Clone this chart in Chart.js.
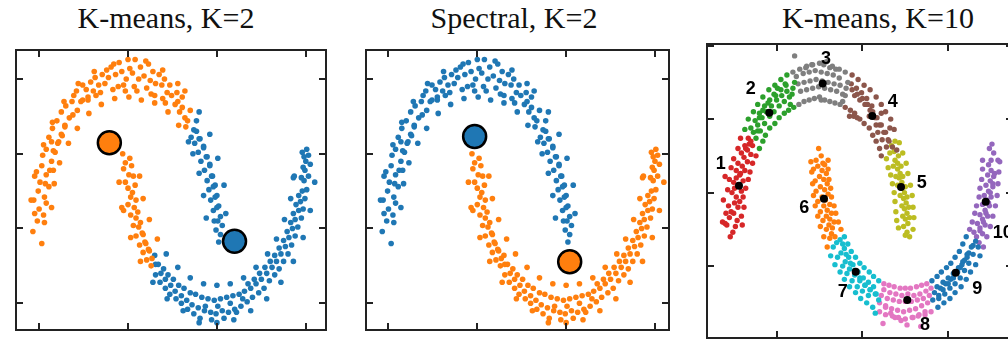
<!DOCTYPE html>
<html>
<head>
<meta charset="utf-8">
<script src="https://cdn.jsdelivr.net/npm/chart.js@4.4.1/dist/chart.umd.min.js"></script>
<style>
  html, body { margin: 0; padding: 0; background: #fff; overflow: hidden; }
  body { width: 1008px; height: 341px; position: relative; }
  .title { position: absolute; top: 3px; font: 30px "Liberation Serif", "Times New Roman", serif; line-height: 30px; white-space: nowrap; transform: translateX(-50%); color: #111; }
  canvas { position: absolute; }
</style>
</head>
<body>
<div class="title" id="t1" style="left:166px"></div>
<div class="title" id="t2" style="left:514px"></div>
<div class="title" id="t3" style="left:878px"></div>
<canvas id="c1" width="338" height="308" style="left:2px;top:36px"></canvas>
<canvas id="c2" width="331" height="308" style="left:352px;top:36px"></canvas>
<canvas id="c3" width="318" height="306" style="left:701px;top:38px"></canvas>
<script>
'use strict'

const titles = ['K-means, K=2', 'Spectral, K=2', 'K-means, K=10']

// two moons, each split where the K=2 k-means boundary cuts it
const upperA = [
  [-1.07,-0.02],[-0.97,-0.10],[-1.02,0.05],[-1.05,0.10],[-0.94,0.04],[-1.00,0.13],
  [-0.95,0.09],[-1.06,0.19],[-0.92,0.17],[-1.01,0.25],[-0.94,0.21],[-0.89,0.28],
  [-0.99,0.31],[-0.92,0.36],[-1.05,0.35],[-0.88,0.39],[-0.97,0.42],[-0.93,0.30],
  [-0.86,0.45],[-0.96,0.49],[-0.84,0.39],[-0.92,0.53],[-0.82,0.51],[-0.86,0.58],
  [-0.78,0.58],[-0.89,0.61],[-0.84,0.52],[-0.75,0.63],[-0.85,0.67],[-0.79,0.57],
  [-0.71,0.69],[-0.80,0.72],[-0.74,0.62],[-0.66,0.74],[-0.75,0.78],[-0.71,0.68],
  [-0.62,0.76],[-0.70,0.82],[-0.63,0.85],[-0.57,0.79],[-0.61,0.89],[-0.53,0.85],
  [-0.51,0.86],[-0.58,0.92],[-0.47,0.93],[-0.45,0.88],[-0.51,0.96],[-0.42,0.98],
  [-0.39,0.92],[-0.37,1.01],[-0.45,0.86],[-0.33,0.96],[-0.29,1.03],[-0.36,0.89],
  [-0.26,0.97],[-0.24,1.06],[-0.31,0.91],[-0.22,1.01],[-0.17,0.93],[-0.19,1.08],
  [-0.14,1.03],[-0.11,0.95],[-0.16,1.10],[-0.07,1.05],[-0.05,0.96],[-0.10,1.11],
  [-0.02,1.00],[0.02,1.07],[-0.03,0.92],[0.05,1.04],[0.07,0.95],[0.08,1.13],
  [0.12,1.00],[0.14,1.08],[0.10,0.92],[0.18,1.02],[0.21,0.94],[0.23,1.10],
  [0.25,0.99],[0.28,1.05],[0.26,0.90],[0.31,0.97],[0.35,1.03],[0.30,0.89],
  [0.38,0.96],[0.41,1.00],[0.39,0.87],[0.44,0.91],[0.47,0.96],[0.42,0.84],
  [0.49,0.89],[0.53,0.83],[0.55,0.91],[0.56,0.85],[0.58,0.78],[0.61,0.88],
  [0.61,0.81],[0.64,0.74],[0.57,0.69],[0.67,0.72],[0.70,0.79],[0.65,0.68],
  [-1.09,0.19],[-0.86,0.14],[-1.03,0.38],[-0.83,0.30],[-0.95,0.56],[-0.77,0.44],
  [-0.85,0.71],[-0.67,0.57],[-0.72,0.85],[-0.57,0.67],[-0.56,0.97],[-0.44,0.77],
  [-0.38,1.05],[-0.30,0.83],[-0.15,0.87],[0.00,1.13],[0.01,0.88],[0.20,1.12],
  [0.15,0.86],[0.39,1.06],[0.30,0.84],[0.56,0.97],[0.45,0.78],[0.64,0.92]
]
const upperB = [
  [0.74,0.66],[0.71,0.61],[0.77,0.72],[0.77,0.65],[0.80,0.60],[0.75,0.57],
  [0.81,0.60],[0.85,0.55],[0.79,0.51],[0.85,0.54],[0.89,0.48],[0.82,0.45],
  [0.88,0.48],[0.92,0.43],[0.86,0.39],[0.92,0.42],[0.95,0.35],[0.89,0.32],
  [0.94,0.35],[0.98,0.29],[0.91,0.26],[0.96,0.28],[1.00,0.22],[0.93,0.19],
  [0.98,0.21],[1.02,0.15],[0.96,0.12],[1.00,0.14],[1.04,0.08],[0.97,0.05],
  [1.01,0.05],[1.06,0.02],[0.99,-0.01],[1.04,-0.04],[1.02,-0.09],
  [0.80,0.78],[0.68,0.58],[0.92,0.63],[0.73,0.50],[1.01,0.47],[0.80,0.37],
  [1.08,0.29],[0.85,0.22],[1.10,0.10],[0.88,0.07]
]
const lowerA = [
  [-0.06,0.50],[0.02,0.47],[-0.03,0.44],[0.04,0.42],[-0.05,0.40],[0.01,0.36],
  [0.06,0.35],[-0.03,0.31],[0.08,0.29],[0.00,0.27],[0.05,0.24],[-0.07,0.14],
  [0.03,0.21],[0.09,0.19],[0.00,0.16],[0.07,0.14],[0.11,0.11],[0.03,0.09],
  [0.09,0.07],[0.14,0.04],[0.06,0.02],[0.12,0.01],[0.16,-0.03],[0.09,-0.05],
  [0.17,-0.04],[0.19,-0.09],[0.13,-0.11],[0.20,-0.10],[0.23,-0.14],[0.17,-0.16],
  [0.24,-0.15],[0.27,-0.20],[0.21,-0.21],[0.26,-0.25],
  [-0.10,0.31],[0.13,0.35],[-0.05,0.12],[0.17,0.20],[0.03,-0.06],[0.24,0.06],
  [0.14,-0.22],[0.33,-0.07]
]
const lowerB = [
  [0.31,-0.24],[0.30,-0.18],[0.34,-0.24],[0.37,-0.30],[0.31,-0.31],
  [0.40,-0.27],[0.42,-0.34],[0.36,-0.36],[0.45,-0.31],[0.48,-0.38],[0.42,-0.40],
  [0.51,-0.34],[0.53,-0.42],[0.47,-0.44],[0.57,-0.38],[0.60,-0.45],[0.54,-0.47],
  [0.63,-0.40],[0.66,-0.48],[0.60,-0.50],[0.70,-0.43],[0.72,-0.51],[0.67,-0.54],
  [0.76,-0.44],[0.79,-0.53],[0.74,-0.57],[0.83,-0.46],[0.86,-0.55],[0.81,-0.60],
  [0.90,-0.47],[0.93,-0.56],[0.87,-0.52],[0.97,-0.48],[0.99,-0.57],[0.94,-0.61],
  [1.04,-0.47],[1.06,-0.55],[1.01,-0.52],[1.11,-0.46],[1.13,-0.56],[1.08,-0.60],
  [1.18,-0.45],[1.20,-0.54],[1.15,-0.50],[1.25,-0.44],[1.27,-0.52],[1.22,-0.56],
  [1.31,-0.42],[1.34,-0.49],[1.29,-0.47],[1.38,-0.40],[1.40,-0.46],[1.35,-0.37],
  [1.44,-0.37],[1.47,-0.43],[1.42,-0.34],[1.50,-0.34],[1.53,-0.40],[1.48,-0.30],
  [1.56,-0.30],[1.59,-0.35],[1.54,-0.26],[1.62,-0.26],[1.65,-0.31],[1.60,-0.22],
  [1.67,-0.22],[1.70,-0.27],[1.65,-0.18],[1.72,-0.17],[1.75,-0.22],[1.70,-0.13],
  [1.77,-0.12],[1.80,-0.17],[1.75,-0.08],[1.81,-0.06],[1.84,-0.11],[1.79,-0.02],
  [1.85,0.00],[1.88,-0.05],[1.83,0.04],[1.88,0.06],[1.91,0.01],[1.86,0.10],
  [1.92,0.12],[1.95,0.07],[1.89,0.16],[1.94,0.18],[1.97,0.13],[1.92,0.22],
  [1.96,0.25],[1.99,0.20],[1.86,0.34],[1.98,0.32],[2.01,0.26],[1.95,0.34],
  [1.99,0.39],[2.03,0.35],[1.97,0.41],[2.00,0.45],[2.05,0.43],[1.98,0.48],
  [2.03,0.49],[1.96,0.51],[2.01,0.53],
  [0.28,-0.36],[0.43,-0.17],[0.44,-0.47],[0.56,-0.26],[0.62,-0.55],[0.70,-0.33],
  [0.80,-0.63],[0.85,-0.37],[1.00,-0.63],[1.00,-0.38],[1.19,-0.61],[1.15,-0.37],
  [1.38,-0.55],[1.30,-0.33],[1.56,-0.47],[1.44,-0.26],[1.72,-0.36],[1.57,-0.17],
  [1.86,-0.22],[1.67,-0.07],[1.97,-0.06],[1.76,0.06],[2.05,0.12],[1.83,0.20],
  [2.10,0.31],[1.87,0.35]
]

const kmCenters = [[-0.21, 0.574], [1.198, -0.085]]      // orange, blue
const spectralCenters = [[-0.03, 0.615], [1.04, -0.223]] // blue, orange

// K=10 run on a denser sample
const c1 = [
  [-1.04,-0.05],[-0.98,0.02],[-1.08,0.03],[-1.01,-0.02],[-1.05,0.08],[-0.96,0.06],[-1.13,0.05],[-1.00,0.11],
  [-0.95,0.15],[-1.03,0.12],[-0.99,0.18],[-1.06,0.16],[-0.97,0.22],[-0.93,0.19],[-1.02,0.25],[-0.99,0.28],
  [-0.95,0.30],[-1.00,0.32],[-0.91,0.26],[-0.97,0.35],[-0.93,0.37],[-0.97,0.40],[-0.89,0.33],[-1.10,0.36],
  [-0.90,0.43],[-0.95,0.45],[-0.87,0.40],[-0.92,0.38],[-0.88,0.49],[-0.84,0.46],[-0.91,0.52],[-0.86,0.55],
  [-0.84,0.54],[-0.82,0.58],[-0.87,0.57],[-0.80,0.51],[-0.80,0.60],[-0.83,0.62],[-0.78,0.57],
  [-1.10,0.04],[-0.90,0.03],[-1.09,0.11],[-0.91,0.09],[-1.12,0.20],[-0.88,0.15],[-1.07,0.27],[-0.89,0.22],
  [-1.05,0.34],[-0.86,0.28],[-1.03,0.42],[-0.83,0.34],[-1.00,0.48],[-0.81,0.39],[-0.95,0.55],[-0.78,0.45],
  [-0.92,0.62],[-0.74,0.50]
]
const c2 = [
  [-0.77,0.66],[-0.74,0.62],[-0.80,0.69],[-0.72,0.67],[-0.72,0.71],[-0.69,0.67],[-0.75,0.74],[-0.70,0.76],
  [-0.67,0.76],[-0.64,0.72],[-0.70,0.79],[-0.66,0.81],[-0.62,0.80],[-0.58,0.77],[-0.64,0.84],[-0.60,0.86],
  [-0.56,0.84],[-0.53,0.80],[-0.58,0.88],[-0.51,0.91],[-0.50,0.88],[-0.47,0.84],[-0.53,0.92],[-0.49,0.96],
  [-0.44,0.91],[-0.41,0.87],[-0.45,0.95],[-0.40,0.99],[-0.38,0.94],[-0.35,0.90],[-0.39,0.98],[-0.34,0.85],
  [-0.31,0.96],[-0.29,1.00],[-0.32,0.92],
  [-0.87,0.68],[-0.70,0.55],[-0.83,0.75],[-0.66,0.60],[-0.77,0.80],[-0.63,0.64],[-0.72,0.85],[-0.58,0.69],
  [-0.66,0.90],[-0.52,0.72],[-0.59,0.95],[-0.47,0.76],[-0.52,0.98],[-0.41,0.79],[-0.45,1.02],[-0.36,0.81],
  [-0.38,1.05],[-0.30,0.83]
]
const c3 = [
  [-0.25,0.99],[-0.22,0.94],[-0.27,1.04],[-0.29,1.18],[-0.18,1.00],[-0.15,0.95],[-0.19,1.06],[-0.16,1.10],
  [-0.11,1.01],[-0.08,0.96],[-0.12,1.07],[-0.09,1.12],[-0.04,1.02],[-0.01,0.97],[-0.05,1.08],[0.02,0.88],
  [0.03,1.01],[0.06,0.96],[0.02,1.07],[0.05,1.12],[0.10,1.00],[0.13,0.95],[0.09,1.06],[0.12,1.10],
  [0.17,0.99],[0.20,0.94],[0.16,1.05],[0.19,1.09],[0.24,0.98],[0.27,0.92],[0.23,1.03],[0.27,0.87],
  [0.31,0.96],[0.33,1.00],[0.30,0.91],
  [-0.31,1.07],[-0.24,0.85],[-0.23,1.09],[-0.18,0.87],[-0.15,1.11],[-0.12,0.88],[-0.08,1.12],[-0.06,0.89],
  [0.00,1.13],[0.00,0.90],[0.08,1.14],[0.06,0.88],[0.15,1.11],[0.12,0.87],[0.23,1.09],[0.18,0.86],
  [0.30,1.07],[0.24,0.85]
]
const c4 = [
  [0.38,0.95],[0.41,0.91],[0.37,0.99],[0.35,0.77],[0.44,0.92],[0.47,0.88],[0.43,0.96],[0.40,0.77],
  [0.50,0.89],[0.53,0.85],[0.49,0.93],[0.44,0.76],[0.56,0.85],[0.59,0.81],[0.55,0.89],[0.58,0.77],
  [0.62,0.80],[0.65,0.76],[0.61,0.84],[0.66,0.71],[0.67,0.76],[0.70,0.71],[0.68,0.66],[0.72,0.79],
  [0.72,0.71],[0.75,0.66],[0.73,0.61],[0.72,0.50],[0.77,0.66],[0.80,0.61],[0.78,0.56],[0.82,0.69],
  [0.81,0.60],[0.85,0.56],[0.90,0.54],
  [0.38,1.05],[0.30,0.83],[0.45,1.02],[0.36,0.81],[0.52,0.98],[0.41,0.79],[0.59,0.95],[0.47,0.75],
  [0.66,0.90],[0.52,0.72],[0.72,0.85],[0.58,0.69],[0.77,0.80],[0.62,0.64],[0.83,0.75],[0.66,0.60],
  [0.87,0.68],[0.70,0.55]
]
const c5 = [
  [0.84,0.57],[0.87,0.53],[0.82,0.52],[0.88,0.60],[0.88,0.47],[0.91,0.45],[0.86,0.43],[0.92,0.50],
  [0.91,0.41],[0.94,0.38],[0.89,0.36],[0.95,0.43],[0.93,0.35],[0.96,0.32],[0.91,0.30],[0.97,0.36],
  [0.96,0.28],[0.99,0.25],[0.94,0.23],[1.00,0.29],[0.98,0.21],[1.01,0.18],[0.96,0.16],[1.02,0.22],
  [0.99,0.14],[1.02,0.11],[0.97,0.09],[1.04,0.15],[1.00,0.07],[1.03,0.04],[0.98,0.02],[1.05,0.08],
  [1.02,-0.02],[1.05,-0.05],[1.00,-0.04],
  [0.93,0.59],[0.78,0.48],[0.97,0.52],[0.80,0.42],[1.01,0.45],[0.83,0.37],[1.03,0.38],[0.85,0.31],
  [1.06,0.30],[0.87,0.25],[1.08,0.23],[0.88,0.19],[1.09,0.15],[0.89,0.12],[1.10,0.08],[0.90,0.06],
  [1.09,0.00],[0.92,0.01]
]
const c6 = [
  [-0.01,0.55],[0.02,0.50],[-0.04,0.47],[0.04,0.45],[-0.02,0.43],[0.03,0.40],[-0.07,0.41],[0.06,0.44],
  [0.00,0.36],[0.05,0.34],[-0.05,0.33],[0.08,0.38],[0.01,0.29],[0.06,0.27],[-0.04,0.26],[0.09,0.31],
  [0.03,0.22],[0.07,0.20],[-0.02,0.19],[0.10,0.24],[0.05,0.16],[0.09,0.13],[0.01,0.12],[0.12,0.17],
  [0.08,0.09],[0.12,0.07],[0.04,0.06],[0.14,0.11],[0.11,0.03],[0.15,0.01],[0.08,0.00],[0.17,0.05],
  [0.14,-0.03],[0.18,-0.05],[0.12,-0.06],
  [-0.10,0.46],[0.10,0.47],[-0.09,0.39],[0.10,0.41],[-0.08,0.31],[0.11,0.34],[-0.07,0.23],[0.13,0.28],
  [-0.05,0.16],[0.14,0.22],[-0.02,0.09],[0.17,0.16],[0.01,0.02],[0.19,0.11],[0.05,-0.05],[0.22,0.05],
  [0.09,-0.12],[0.25,0.00]
]
const c7 = [
  [0.20,-0.09],[0.24,-0.07],[0.16,-0.12],[0.27,-0.10],[0.25,-0.16],[0.29,-0.13],[0.21,-0.19],[0.31,-0.17],
  [0.30,-0.22],[0.34,-0.19],[0.27,-0.25],[0.36,-0.23],[0.35,-0.27],[0.39,-0.24],[0.32,-0.30],[0.41,-0.28],
  [0.41,-0.31],[0.45,-0.29],[0.38,-0.35],[0.47,-0.33],[0.47,-0.35],[0.51,-0.33],[0.44,-0.39],[0.53,-0.38],
  [0.53,-0.38],[0.57,-0.36],[0.50,-0.42],[0.59,-0.41],[0.59,-0.41],[0.63,-0.39],[0.57,-0.45],[0.65,-0.44],
  [0.66,-0.44],[0.69,-0.48],[0.65,-0.57],
  [0.13,-0.18],[0.29,-0.05],[0.18,-0.24],[0.33,-0.10],[0.24,-0.29],[0.37,-0.15],[0.29,-0.34],[0.42,-0.19],
  [0.35,-0.39],[0.47,-0.23],[0.42,-0.43],[0.52,-0.26],[0.48,-0.47],[0.58,-0.29],[0.55,-0.50],[0.63,-0.32],
  [0.62,-0.53],[0.69,-0.35]
]
const c8 = [
  [0.72,-0.45],[0.75,-0.41],[0.70,-0.50],[0.77,-0.53],[0.79,-0.47],[0.82,-0.43],[0.77,-0.52],[0.83,-0.57],
  [0.86,-0.48],[0.89,-0.44],[0.84,-0.54],[0.88,-0.60],[0.93,-0.49],[0.96,-0.45],[0.91,-0.55],[0.95,-0.62],
  [1.00,-0.49],[1.03,-0.44],[0.98,-0.56],[1.02,-0.65],[1.07,-0.49],[1.10,-0.45],[1.05,-0.55],[1.09,-0.60],
  [1.14,-0.48],[1.17,-0.44],[1.12,-0.54],[1.16,-0.58],[1.21,-0.47],[1.24,-0.42],[1.19,-0.52],[1.23,-0.56],
  [1.28,-0.45],[1.30,-0.40],[1.26,-0.50],
  [0.70,-0.56],[0.75,-0.37],[0.77,-0.58],[0.81,-0.38],[0.85,-0.59],[0.87,-0.39],[0.92,-0.60],[0.94,-0.40],
  [1.00,-0.61],[1.00,-0.40],[1.08,-0.60],[1.06,-0.40],[1.15,-0.59],[1.13,-0.39],[1.23,-0.58],[1.19,-0.38],
  [1.30,-0.56],[1.25,-0.37],[0.74,-0.64],[1.18,-0.66]
]
const c9 = [
  [1.34,-0.43],[1.37,-0.39],[1.32,-0.48],[1.39,-0.47],[1.41,-0.40],[1.44,-0.36],[1.39,-0.45],[1.46,-0.44],
  [1.47,-0.37],[1.50,-0.33],[1.44,-0.41],[1.52,-0.40],[1.53,-0.34],[1.56,-0.30],[1.50,-0.37],[1.58,-0.37],
  [1.59,-0.30],[1.62,-0.26],[1.56,-0.33],[1.64,-0.33],[1.64,-0.26],[1.67,-0.22],[1.61,-0.29],[1.69,-0.28],
  [1.69,-0.21],[1.72,-0.17],[1.66,-0.24],[1.74,-0.23],[1.74,-0.16],[1.77,-0.12],[1.72,-0.19],[1.79,-0.17],
  [1.79,-0.11],[1.82,-0.08],[1.85,-0.12],
  [1.38,-0.53],[1.31,-0.35],[1.45,-0.50],[1.37,-0.32],[1.52,-0.47],[1.42,-0.29],[1.58,-0.43],[1.48,-0.26],
  [1.65,-0.39],[1.53,-0.23],[1.71,-0.34],[1.58,-0.19],[1.76,-0.29],[1.63,-0.15],[1.82,-0.24],[1.67,-0.10],
  [1.87,-0.18],[1.71,-0.05]
]
const c10 = [
  [1.83,-0.05],[1.86,-0.09],[1.80,-0.02],[1.87,-0.01],[1.87,0.01],[1.90,-0.03],[1.84,0.04],[1.91,0.05],
  [1.90,0.07],[1.93,0.03],[1.87,0.10],[1.94,0.11],[1.93,0.13],[1.96,0.09],[1.90,0.17],[1.97,0.18],
  [1.95,0.20],[1.98,0.16],[1.92,0.23],[1.99,0.25],[1.97,0.26],[2.00,0.22],[1.94,0.30],[2.02,0.31],
  [1.99,0.33],[2.02,0.29],[1.96,0.37],[2.04,0.38],[2.00,0.40],[2.03,0.36],[1.97,0.44],[2.08,0.47],
  [2.00,0.47],[2.03,0.52],[1.98,0.55],[2.01,0.58],
  [1.91,-0.12],[1.75,0.00],[1.95,-0.05],[1.78,0.05],[1.99,0.02],[1.81,0.11],[2.02,0.09],[1.83,0.16],
  [2.05,0.16],[1.86,0.22],[2.07,0.23],[1.87,0.28],[2.08,0.31],[1.89,0.34],[2.09,0.39],[1.90,0.41],
  [2.10,0.46],[1.90,0.47]
]
const k10Clusters = [c1, c2, c3, c4, c5, c6, c7, c8, c9, c10]
const k10Centers = [
  [-0.938,0.297],[-0.585,0.793],[0.037,0.993],[0.615,0.771],[0.950,0.288],
  [0.052,0.208],[0.422,-0.288],[1.023,-0.481],[1.587,-0.295],[1.937,0.188]
]
const k10Names = ['1', '2', '3', '4', '5', '6', '7', '8', '9', '10']
const k10NamePos = [
  [-1.152,0.444],[-0.802,0.952],[0.076,1.156],[0.853,0.866],[1.191,0.313],
  [-0.177,0.143],[0.270,-0.429],[1.230,-0.651],[1.839,-0.408],[2.135,-0.027]
]

const moonTicksX = [-1, 0, 1, 2]
const moonTicksY = [-0.5, 0, 0.5, 1]
const k10TicksX = [-0.5, 0.5, 1.5]
const k10TicksY = [-0.25, 0.25, 0.75, 1.25]

const BLUE = '#1f77b4'
const ORANGE = '#ff7f0e'
const TAB10 = ['#d62728', '#2ca02c', '#7f7f7f', '#8c564b', '#bcbd22',
               '#ff7f0e', '#17becf', '#e377c2', '#1f77b4', '#9467bd']

const pts = (arr) => arr.map(([x, y]) => ({ x, y }))

// box frame with inward ticks on every side, plus optional text labels
const frameTicks = {
  id: 'frameTicks',
  afterDatasetsDraw(chart, args, opts) {
    const { ctx, chartArea: a } = chart
    const sx = chart.scales.x
    const sy = chart.scales.y
    const len = 7
    ctx.save()
    ctx.strokeStyle = '#222'
    ctx.lineWidth = 2
    ctx.beginPath()
    opts.xTicks.forEach((v) => {
      const px = Math.round(sx.getPixelForValue(v))
      if (px < a.left || px > a.right) return
      ctx.moveTo(px, a.bottom); ctx.lineTo(px, a.bottom - len)
      ctx.moveTo(px, a.top); ctx.lineTo(px, a.top + len)
    })
    opts.yTicks.forEach((v) => {
      const py = Math.round(sy.getPixelForValue(v))
      if (py < a.top || py > a.bottom) return
      ctx.moveTo(a.left, py); ctx.lineTo(a.left + len, py)
      ctx.moveTo(a.right, py); ctx.lineTo(a.right - len, py)
    })
    ctx.stroke()
    ctx.strokeRect(a.left, a.top, a.right - a.left, a.bottom - a.top)

    if (opts.names) {
      ctx.fillStyle = '#000'
      ctx.font = 'bold 18px "Liberation Sans", Arial, sans-serif'
      ctx.textAlign = 'center'
      ctx.textBaseline = 'middle'
      opts.names.forEach((txt, i) => {
        const [x, y] = opts.namePos[i]
        ctx.fillText(txt, sx.getPixelForValue(x), sy.getPixelForValue(y))
      })
    }
    ctx.restore()
  }
}

const makeChart = (id, datasets, lim, frame) => {
  return new Chart(document.getElementById(id), {
    type: 'scatter',
    data: { datasets },
    options: {
      responsive: false,
      animation: false,
      events: [],
      layout: { padding: 6 },
      elements: { point: { borderWidth: 0, hoverRadius: 0 } },
      plugins: { legend: { display: false }, tooltip: { enabled: false }, frameTicks: frame },
      scales: {
        x: { type: 'linear', display: false, min: lim[0], max: lim[1] },
        y: { type: 'linear', display: false, min: lim[2], max: lim[3] }
      }
    },
    plugins: [frameTicks]
  })
}

const dotSet = (data, color, r, order) => ({
  data: pts(data), backgroundColor: color, pointRadius: r, order
})
const centerSet = (xy, color) => ({
  data: pts([xy]), backgroundColor: color, borderColor: '#000',
  pointRadius: 11.5, borderWidth: 2.5, pointBorderWidth: 2.5, order: 0
})

document.getElementById('t1').textContent = titles[0]
document.getElementById('t2').textContent = titles[1]
document.getElementById('t3').textContent = titles[2]

// k-means, K=2
makeChart('c1', [
  centerSet(kmCenters[0], ORANGE),
  centerSet(kmCenters[1], BLUE),
  dotSet(upperA.concat(lowerA), ORANGE, 2.8, 1),
  dotSet(upperB.concat(lowerB), BLUE, 2.8, 2)
], [-1.260, 2.227, -0.679, 1.194], { xTicks: moonTicksX, yTicks: moonTicksY })

// spectral, K=2
makeChart('c2', [
  centerSet(spectralCenters[0], BLUE),
  centerSet(spectralCenters[1], ORANGE),
  dotSet(upperA.concat(upperB), BLUE, 2.8, 1),
  dotSet(lowerA.concat(lowerB), ORANGE, 2.8, 2)
], [-1.253, 2.158, -0.679, 1.194], { xTicks: moonTicksX, yTicks: moonTicksY })

// k-means, K=10
const k10Sets = k10Clusters.map((c, i) => dotSet(c, TAB10[i], 2.7, 2))
k10Sets.unshift({
  data: pts(k10Centers), backgroundColor: '#000', pointRadius: 4, order: 0
})
makeChart('c3', k10Sets, [-1.311, 2.255, -0.739, 1.261], {
  xTicks: k10TicksX, yTicks: k10TicksY, names: k10Names, namePos: k10NamePos
})
</script>
</body>
</html>
